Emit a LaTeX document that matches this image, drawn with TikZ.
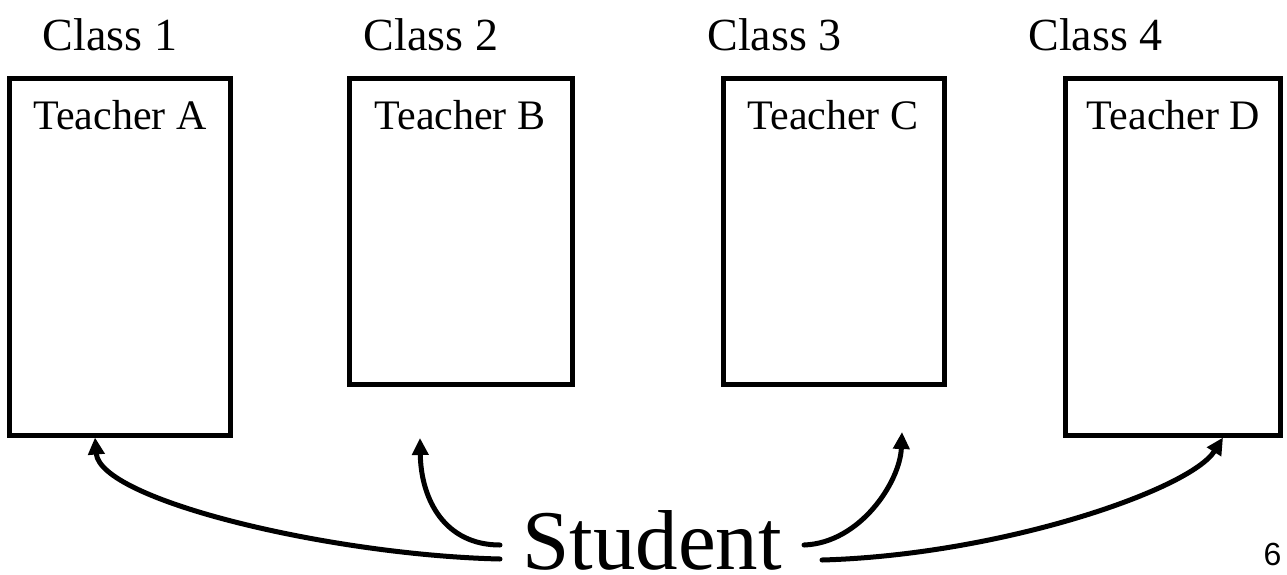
\documentclass[tikz,border=0pt]{standalone}
\usepackage{fontspec}
\setmainfont{Liberation Serif}
\newfontfamily\pagenumfont{Liberation Sans}
\usetikzlibrary{arrows.meta}
\tikzset{
  classbox/.style={draw, line width=5pt, inner sep=0pt, fill=white},
  classlabel/.style={anchor=base, inner sep=0pt, font=\fontsize{46}{50}\selectfont},
  teacherlabel/.style={anchor=base, inner sep=0pt, font=\fontsize{42}{46}\selectfont},
  studentlabel/.style={anchor=base, inner sep=0pt, font=\fontsize{85}{90}\selectfont},
  link/.style={line width=5pt, line cap=round, -{Triangle[length=17pt,width=16pt]}}
}
\begin{document}
\begin{tikzpicture}[x=1pt,y=-1pt]
\useasboundingbox (0,0) rectangle (1287,574);
% boxes
\node[classbox, minimum width=221pt, minimum height=356.5pt] (A) at (120,256.75) {};
\node[classbox, minimum width=223pt, minimum height=305.5pt] (B) at (461,231.25) {};
\node[classbox, minimum width=221pt, minimum height=305.5pt] (C) at (834,231.25) {};
\node[classbox, minimum width=215pt, minimum height=356.5pt] (D) at (1173,256.75) {};
% class labels
\node[classlabel] (c1) at (110,50) {Class 1};
\node[classlabel] (c2) at (431,50) {Class 2};
\node[classlabel] (c3) at (774.5,50) {Class 3};
\node[classlabel] (c4) at (1095.5,50) {Class 4};
% teacher labels
\node[teacherlabel] (tA) at (120,129) {Teacher A};
\node[teacherlabel] (tB) at (460,129) {Teacher B};
\node[teacherlabel] (tC) at (833,129) {Teacher C};
\node[teacherlabel] (tD) at (1173.5,129) {Teacher D};
% student
\node[studentlabel] (S) at (652,569) {Student};
% page number
\node[anchor=base east, inner sep=0pt, font=\pagenumfont\fontsize{32}{36}\selectfont] (pg) at (1281.5,565) {6};
% connector ends
\coordinate (sA) at (500,559);
\coordinate (sB) at (500,545);
\coordinate (sC) at (804,545);
\coordinate (sD) at (822,560);
\coordinate (eA) at ([xshift=-25pt]A.south);
\coordinate (eB) at ([xshift=-41pt,yshift=-51.5pt]B.south);
\coordinate (eC) at ([xshift=68pt,yshift=-45.5pt]C.south);
\coordinate (eD) at ([xshift=50pt]D.south);
% connectors
\draw[link] (sA) .. controls (330,555) and (100,500) .. (eA);
\draw[link] (sB) .. controls (445,545) and (421,500) .. (eB);
\draw[link] (sC) .. controls (860,543) and (900,482) .. (eC);
\draw[link] (sD) .. controls (1000,555) and (1190,490) .. (eD);
\end{tikzpicture}
\end{document}
